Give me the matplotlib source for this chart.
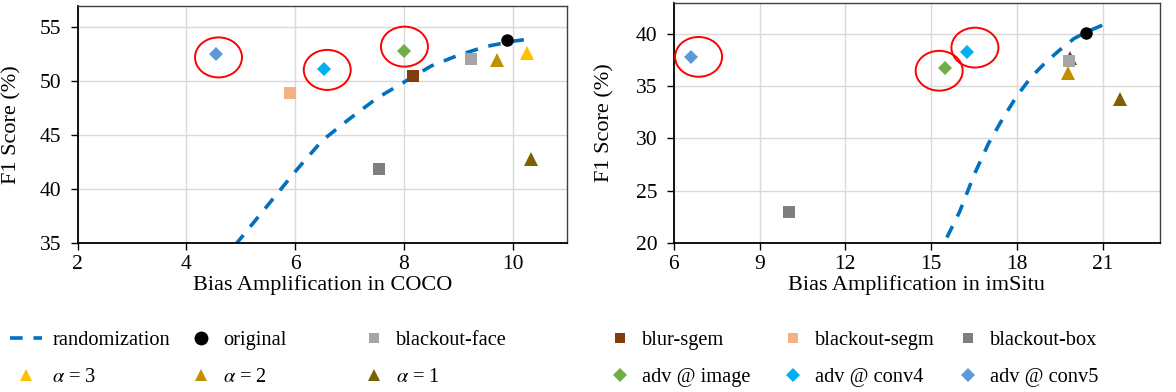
import numpy as np
import matplotlib
matplotlib.use('Agg')
import matplotlib.pyplot as plt
from matplotlib.lines import Line2D
from matplotlib.patches import Ellipse

plt.rcParams['font.family'] = ['Liberation Serif', 'DejaVu Serif']
plt.rcParams['mathtext.fontset'] = 'stix'

nan = np.nan

# ---------------- data ----------------
labels = ['original', 'blackout-face', 'blur-sgem', 'blackout-segm', 'blackout-box',
          r'$\alpha$ = 3', r'$\alpha$ = 2', r'$\alpha$ = 1',
          'adv @ image', 'adv @ conv4', 'adv @ conv5']
markers = ['o', 's', 's', 's', 's', '^', '^', '^', 'D', 'D', 'D']
colors = ['#000000', '#A5A5A5', '#843C0C', '#F4B183', '#7F7F7F',
          '#FFC000', '#BF9000', '#7F6000',
          '#70AD47', '#00B0F0', '#5B9BD5']

coco_x = [9.90, 9.24, 8.16, 5.91, 7.54, 10.26, 9.71, 10.34, 8.00, 6.53, 4.55]
coco_y = [53.83, 52.02, 50.49, 48.89, 41.86, 52.6, 52.0, 42.8, 52.82, 51.08, 52.5]

imsitu_x = [20.43, 19.83, nan, nan, 10.03, nan, 19.80, 21.6, 15.47, 16.24, 6.62]
imsitu_y = [40.10, 37.45, nan, nan, 22.9, nan, 36.3, 33.8, 36.8, 38.28, 37.78]

# partly hidden triangle behind the blackout-face square (imSitu)
imsitu_hidden_x = [19.86]
imsitu_hidden_y = [37.7]

rand_coco_x = [4.9, 5.5, 6.0, 6.5, 7.0, 7.5, 8.0, 8.5, 9.0, 9.5, 10.0, 10.3]
rand_coco_y = [34.8, 38.5, 41.6, 44.5, 46.5, 48.4, 49.9, 51.4, 52.4, 53.2, 53.7, 53.9]

rand_imsitu_x = [15.55, 16.0, 16.5, 17.0, 17.5, 18.0, 18.5, 19.0, 19.5, 20.0, 20.5, 21.05]
rand_imsitu_y = [20.5, 23.0, 26.5, 29.5, 31.9, 34.1, 35.9, 37.3, 38.5, 39.6, 40.3, 40.95]

# red circles highlighting the adversarial points
coco_circle_x = [4.59, 6.59, 8.01]
coco_circle_y = [52.2, 51.04, 53.2]
imsitu_circle_x = [6.87, 15.28, 16.53]
imsitu_circle_y = [37.83, 36.5, 38.72]

coco_xticks = [2, 4, 6, 8, 10]
coco_yticks = [35, 40, 45, 50, 55]
imsitu_xticks = [6, 9, 12, 15, 18, 21]
imsitu_yticks = [20, 25, 30, 35, 40]

# ---------------- style ----------------
msize = {'o': 9.0, 's': 8.3, '^': 10.5, 'D': 7.5}
leg_msize = {'o': 10.0, 's': 7.5, '^': 8.3, 'D': 7.0}
RAND_COLOR = '#0070C0'
RAND_LW = 2.6
DASHES = (3.5, 3.0)
TICK_FS = 15.5
LABEL_FS = 16
LEG_FS = 14.7

W, H = 1176, 392
fig = plt.figure(figsize=(W / 100, H / 100), dpi=100)

ax1 = fig.add_axes([77.7 / W, 1 - 242.7 / H, (567 - 77.7) / W, (242.7 - 5.7) / H])
ax2 = fig.add_axes([673.7 / W, 1 - 242.7 / H, (1160 - 673.7) / W, (242.7 - 3) / H])


def style_axes(ax, xlim, ylim, xticks, yticks, xlabel):
    ax.set_xlim(*xlim)
    ax.set_ylim(*ylim)
    ax.set_xticks(xticks)
    ax.set_yticks(yticks)
    ax.grid(True, color='#D9D9D9', linewidth=1.0, zorder=0)
    ax.set_axisbelow(True)
    for s in ['left', 'bottom']:
        ax.spines[s].set_color('black')
        ax.spines[s].set_linewidth(1.3)
    for s in ['top', 'right']:
        ax.spines[s].set_color('#404040')
        ax.spines[s].set_linewidth(1.0)
    ax.tick_params(axis='both', direction='out', length=4.8, width=1.0,
                   labelsize=TICK_FS, colors='black')
    ax.tick_params(axis='y', pad=7)
    ax.tick_params(axis='x', pad=4)
    ax.set_xlabel(xlabel, fontsize=LABEL_FS, labelpad=1)
    ax.set_ylabel('F1 Score (%)', fontsize=LABEL_FS)


style_axes(ax1, (2, 11), (35, 57), coco_xticks, coco_yticks, 'Bias Amplification in COCO')
style_axes(ax2, (6, 23), (20, 43), imsitu_xticks, imsitu_yticks, 'Bias Amplification in imSitu')
ax1.yaxis.set_label_coords(-0.114, 0.5)
ax2.yaxis.set_label_coords(-0.121, 0.5)

# randomization curves
for ax, rx, ry in [(ax1, rand_coco_x, rand_coco_y), (ax2, rand_imsitu_x, rand_imsitu_y)]:
    ax.plot(rx, ry, color=RAND_COLOR, linewidth=RAND_LW, dashes=DASHES,
            dash_capstyle='butt', zorder=2, clip_on=True)

# hidden triangle
ax2.plot(imsitu_hidden_x, imsitu_hidden_y, linestyle='none', marker='^',
         markersize=msize['^'], color='#505050', markeredgewidth=0, zorder=3)

# points
for ax, xs, ys in [(ax1, coco_x, coco_y), (ax2, imsitu_x, imsitu_y)]:
    for lab, m, c, x, y in zip(labels, markers, colors, xs, ys):
        if np.isnan(x):
            continue
        ax.plot([x], [y], linestyle='none', marker=m, markersize=msize[m],
                color=c, markeredgewidth=0, zorder=4)

# red circles
for ax, cx, cy, w, h in [(ax1, coco_circle_x, coco_circle_y, 47 / 54.4, 40 / 10.77),
                         (ax2, imsitu_circle_x, imsitu_circle_y, 47 / 28.6, 40 / 10.47)]:
    for x, y in zip(cx, cy):
        ax.add_patch(Ellipse((x, y), w, h, fill=False, edgecolor='#FF0000',
                             linewidth=1.4, zorder=5))

# ---------------- legend ----------------
handles = {}
handles['randomization'] = Line2D([], [], color=RAND_COLOR, linewidth=RAND_LW, dashes=DASHES,
                                  dash_capstyle='butt')
for lab, m, c in zip(labels, markers, colors):
    handles[lab] = Line2D([], [], linestyle='none', marker=m, markersize=leg_msize[m],
                          color=c, markeredgewidth=0)

columns = [['randomization', labels[5]],
           [labels[0], labels[6]],
           [labels[1], labels[7]],
           [labels[2], labels[8]],
           [labels[3], labels[9]],
           [labels[4], labels[10]]]
col_centers = [26, 201, 374, 620, 793, 968]
fs_px = LEG_FS * 100 / 72
for i, (col, cxp) in enumerate(zip(columns, col_centers)):
    hl = 1.55 if i == 0 else 1.0
    pad = 0.52 if i == 0 else 0.58
    start = cxp - hl * fs_px / 2
    fig.legend(handles=[handles[k] for k in col], labels=col,
               loc='center left', bbox_to_anchor=(start / W, 1 - 359 / H),
               frameon=False, fontsize=LEG_FS, handlelength=hl, handletextpad=pad,
               labelspacing=0.9, borderpad=0, borderaxespad=0, numpoints=1)

fig.savefig('out.png', dpi=100)
